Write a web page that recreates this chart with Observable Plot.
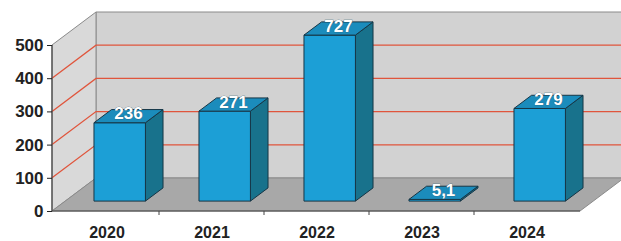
<!DOCTYPE html>
<html><head>
<meta charset="utf-8">
<script src="https://cdn.jsdelivr.net/npm/d3@7"></script>
<script src="https://cdn.jsdelivr.net/npm/@observablehq/plot@0.6"></script>
<style>body{margin:0;background:#fff} svg{display:block}</style>
</head><body><div id="chart"></div>
<script>
const years = ["2020", "2021", "2022", "2023", "2024"];
const values = [236, 271, 727, 5.1, 279];
const valueLabels = ["236", "271", "727", "5,1", "279"];
const yTicks = [0, 100, 200, 300, 400, 500];
const gridTicks = [100, 200, 300, 400];
const yMax = 500;

const data = years.map((y, i) => ({year: y, value: values[i], label: valueLabels[i]}));

const DX = 44, DY = -33;   // full depth of the 3D box (pixels)
const F0 = 0.3, F1 = 0.7;  // bar front / back depth fractions
const BW = 0.49;           // bar width as fraction of band

function pts(a) { return a.map(p => p.join(",")).join(" "); }

function scene(index, scales, values, dims) {
  const {x, y} = scales;
  const g = d3.create("svg:g");
  const x0 = dims.marginLeft, x1 = dims.width - dims.marginRight;
  const yb = y(0), yt = y(yMax);
  const poly = (p, fill, stroke) => g.append("polygon").attr("points", pts(p))
    .attr("fill", fill).attr("stroke", stroke || "none").attr("stroke-width", 1);
  poly([[x0 + DX, yt + DY], [x1 + DX + 40, yt + DY], [x1 + DX + 40, yb + DY], [x0 + DX, yb + DY]], "#d2d2d2", "#8a8a8a");
  poly([[x0, yt], [x0 + DX, yt + DY], [x0 + DX, yb + DY], [x0, yb]], "#d9d9d9", "#8a8a8a");
  poly([[x0, yb], [x1, yb], [x1 + DX, yb + DY], [x0 + DX, yb + DY]], "#a8a8a8", "#8a8a8a");
  for (const t of gridTicks) {
    const yy = y(t);
    g.append("polyline").attr("points", pts([[x0, yy], [x0 + DX, yy + DY], [x1 + DX + 40, yy + DY]]))
      .attr("fill", "none").attr("stroke", "#e0553c").attr("stroke-width", 1.3);
  }
  g.append("line").attr("x1", x0).attr("x2", x0).attr("y1", yt).attr("y2", yb).attr("stroke", "#444").attr("stroke-width", 1.2);
  g.append("line").attr("x1", x0).attr("x2", x1).attr("y1", yb).attr("y2", yb).attr("stroke", "#444").attr("stroke-width", 1.2);
  years.slice(0, -1).forEach(yr => {
    const xx = x(yr) + x.bandwidth();
    g.append("line").attr("x1", xx).attr("x2", xx).attr("y1", yb).attr("y2", yb + 4).attr("stroke", "#444");
  });
  return g.node();
}

function bars(index, scales, values, dims) {
  const {x, y} = scales;
  const g = d3.create("svg:g");
  const bw = x.bandwidth() * BW;
  const dxf = F0 * DX, dyf = F0 * DY;
  const ddx = (F1 - F0) * DX, ddy = (F1 - F0) * DY;
  const stroke = "#163646";
  for (const d of data) {
    const cx = x(d.year) + x.bandwidth() / 2 + dxf;
    const l = cx - bw / 2, r = cx + bw / 2;
    const b = y(0) + dyf, t = y(d.value) + dyf;
    const poly = (p, fill) => g.append("polygon").attr("points", pts(p)).attr("fill", fill)
      .attr("stroke", stroke).attr("stroke-width", 1).attr("stroke-linejoin", "round");
    poly([[r, t], [r + ddx, t + ddy], [r + ddx, b + ddy], [r, b]], "#18728c");
    poly([[l, t], [r, t], [r, b], [l, b]], "#1c9fd6");
    poly([[l, t], [r, t], [r + ddx, t + ddy], [l + ddx, t + ddy]], "#1b8cbc");
    g.append("text").attr("x", cx + ddx / 2).attr("y", t + ddy / 2 + 3)
      .attr("text-anchor", "middle")
      .attr("font-family", "Liberation Sans, Arial, sans-serif")
      .attr("font-weight", "bold").attr("font-size", 17)
      .attr("fill", "#fff").attr("stroke", "#2b5f78").attr("stroke-width", 0.6)
      .attr("paint-order", "stroke")
      .text(d.label);
  }
  return g.node();
}

const chart = Plot.plot({
  width: 621,
  height: 241,
  marginLeft: 52,
  marginRight: 41,
  marginTop: 45,
  marginBottom: 30,
  style: {fontFamily: "Liberation Sans, Arial, sans-serif", fontWeight: "bold", fontSize: "17px", color: "#222", background: "#fff"},
  x: {type: "band", domain: years, padding: 0, label: null},
  y: {domain: [0, yMax], label: null, clamp: true},
  marks: [
    scene,
    bars,
    Plot.axisY({ticks: yTicks, tickSize: 5, tickPadding: 4, label: null, fontWeight: "bold", fontSize: 17}),
    Plot.axisX({tickSize: 0, tickPadding: 15, label: null, fontWeight: "bold", fontSize: 16})
  ]
});
document.getElementById("chart").appendChild(chart);
</script>
</body></html>
